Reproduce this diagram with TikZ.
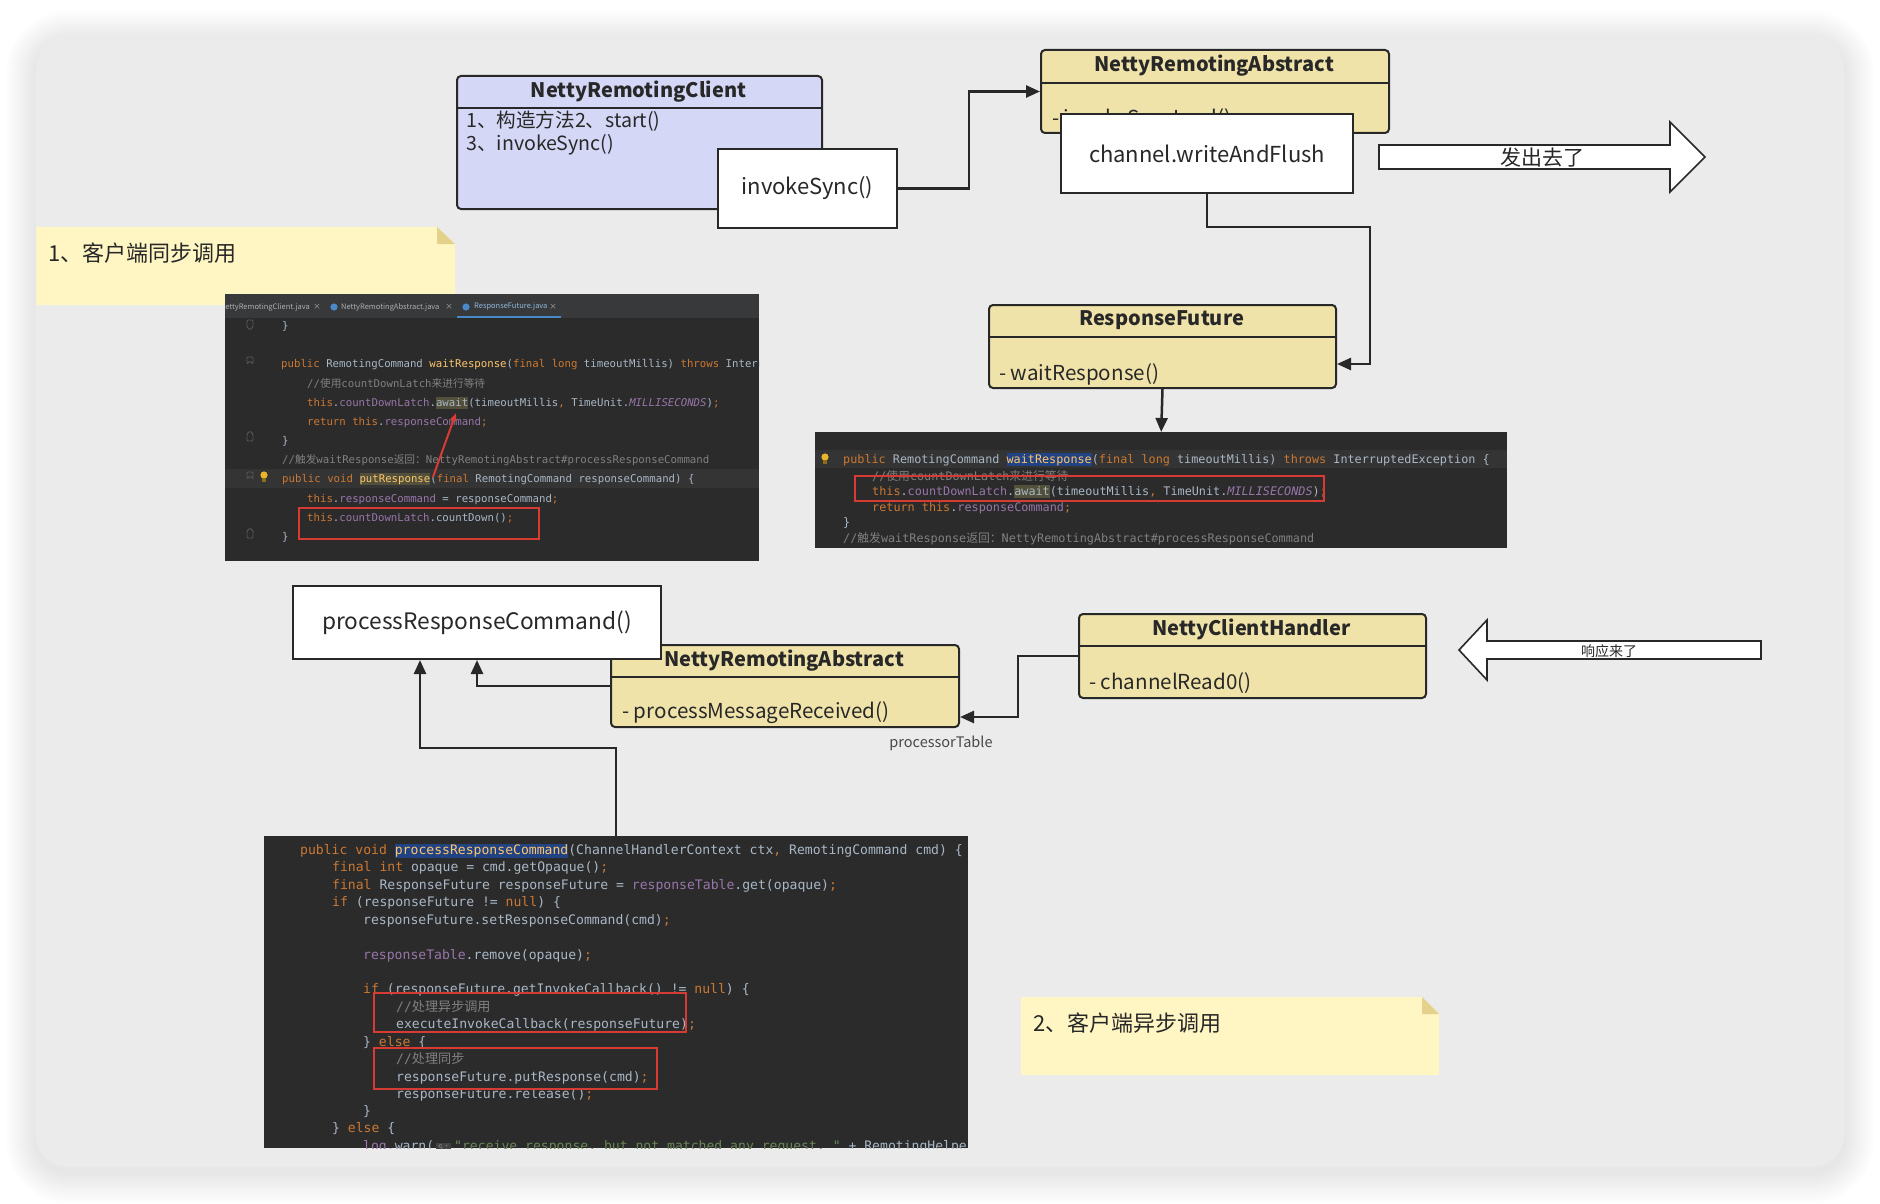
\documentclass[tikz,border=0pt]{standalone}
\usepackage{fontspec}
\setmainfont{Noto Sans CJK SC}
\newfontfamily\codefont{DejaVu Sans Mono}
\usetikzlibrary{arrows.meta,calc}

\definecolor{framebg}{RGB}{235,235,235}
\definecolor{lav}{RGB}{212,215,245}
\definecolor{ylw}{RGB}{240,227,170}
\definecolor{notecol}{RGB}{255,246,196}
\definecolor{notefold}{RGB}{228,210,140}
\definecolor{ink}{RGB}{40,40,40}
\definecolor{codebg}{RGB}{43,43,43}
\definecolor{tabbg}{RGB}{55,57,59}
\definecolor{tabfg}{RGB}{175,175,175}
\definecolor{tabblue}{RGB}{74,136,199}
\definecolor{curline}{RGB}{52,52,52}
\definecolor{ckw}{RGB}{204,120,50}
\definecolor{cpl}{RGB}{169,183,198}
\definecolor{cfd}{RGB}{152,118,170}
\definecolor{cmt}{RGB}{255,198,109}
\definecolor{ccm}{RGB}{128,128,128}
\definecolor{cstr}{RGB}{106,135,89}
\definecolor{csel}{RGB}{33,66,131}
\definecolor{colive}{RGB}{82,80,58}
\definecolor{cinlay}{RGB}{64,66,68}
\definecolor{redbox}{RGB}{214,60,52}
\definecolor{bulb}{RGB}{232,182,40}
\definecolor{foldmk}{RGB}{88,88,88}

\newcommand\kw[1]{\textcolor{ckw}{#1}}
\newcommand\fd[1]{\textcolor{cfd}{#1}}
\newcommand\fdi[1]{\textcolor{cfd}{\itshape #1}}
\newcommand\mt[1]{\textcolor{cmt}{#1}}
\newcommand\cm[1]{\textcolor{ccm}{#1}}
\newcommand\zh[1]{{\rmfamily #1}}
\newcommand\hlbg[2]{{\fboxsep=0pt\colorbox{#1}{\rule[-0.28em]{0pt}{1.12em}#2}}}

\tikzset{
  lbox/.style={draw=ink, line width=2pt, fill=lav, rounded corners=4pt, inner sep=0pt, anchor=north west},
  ybox/.style={draw=ink, line width=2pt, fill=ylw, rounded corners=4pt, inner sep=0pt, anchor=north west},
  wbox/.style={draw=ink, line width=2pt, fill=white, inner sep=0pt, anchor=north west, text=ink, font=\fontsize{22}{26}\selectfont},
  sepline/.style={draw=ink, line width=2pt},
  ttl/.style={font=\bfseries\fontsize{20}{24}\selectfont, text=ink, inner sep=0pt},
  mem/.style={font=\fontsize{20.6}{24}\selectfont, text=ink, inner sep=0pt, anchor=west},
  conn/.style={draw=ink, line width=2.5pt, -{Triangle[length=14pt,width=12pt]}},
  bigarrow/.style={draw=ink, line width=1.6pt, fill=white, line join=miter},
  notetext/.style={font=\fontsize{22}{26}\selectfont, text=ink, inner sep=0pt, anchor=west},
  codebox/.style={fill=codebg, inner sep=0pt, anchor=north west, draw=none},
  codeA/.style={anchor=base west, inner sep=0pt, text=cpl, font=\codefont\fontsize{10.7}{12}\selectfont},
  codeB/.style={anchor=base west, inner sep=0pt, text=cpl, font=\codefont\fontsize{11.8}{13}\selectfont},
  codeC/.style={anchor=base west, inner sep=0pt, text=cpl, font=\codefont\fontsize{13.1}{15}\selectfont},
  redrect/.style={draw=redbox, line width=2pt},
  tabtxt/.style={font=\fontsize{7.5}{9}\selectfont, text=tabfg, inner sep=0pt},
  foldmark/.style={draw=foldmk, line width=0.9pt, rounded corners=1pt},
}

\begin{document}
\begin{tikzpicture}[x=1pt,y=-1pt]
\useasboundingbox (0,0) rectangle (1880,1204);
\fill[white] (0,0) rectangle (1880,1204);

% frame shadow and frame
\foreach \i [evaluate=\i as \r using 32+2.5*\i, evaluate=\i as \d using 2.5*\i] in {1,...,12}{
  \fill[black, opacity=0.0065, rounded corners=\r pt] ({36-\d},{36-\d+5}) rectangle ({1844+\d},{1167+\d+6});
}
\fill[framebg, rounded corners=32pt] (36,36) rectangle (1844,1167);

% ---------- note 1 ----------
\fill[notecol] (36,227) -- (437,227) -- (455,244) -- (455,305) -- (36,305) -- cycle;
\fill[notefold] (437,227) -- (455,244) -- (437,244) -- cycle;
\node[notetext] (note1) at (48,253) {1、客户端同步调用};

% ---------- note 2 ----------
\fill[notecol] (1021,997) -- (1422,997) -- (1439,1014) -- (1439,1075) -- (1021,1075) -- cycle;
\fill[notefold] (1422,997) -- (1439,1014) -- (1422,1014) -- cycle;
\node[notetext] (note2) at (1033,1023) {2、客户端异步调用};

% ---------- NettyRemotingClient ----------
\node[lbox, minimum width=365pt, minimum height=133pt] (nrc) at (456,75) {};
\draw[sepline] (456,108) -- (821,108);
\node[ttl] (nrct) at (638.5,92) {NettyRemotingClient};
\node[mem, font=\fontsize{19.6}{23}\selectfont] (nrcm1) at (466,121) {1、构造方法2、start()};
\node[mem, font=\fontsize{19.6}{23}\selectfont] (nrcm2) at (466,145) {3、invokeSync()};
\node[wbox, minimum width=179pt, minimum height=79pt] (inv) at (717,148) {invokeSync()};

% ---------- NettyRemotingAbstract (top) ----------
\node[ybox, minimum width=348pt, minimum height=83pt] (nra1) at (1040,49) {};
\draw[sepline] (1040,83) -- (1388,83);
\node[ttl] (nra1t) at (1214,66) {NettyRemotingAbstract};
\node[mem] (nra1m) at (1052,119) {- invokeSyncImpl()};
\node[wbox, minimum width=292pt, minimum height=79pt] (wf) at (1060,113) {channel.writeAndFlush};

% big right arrow
\draw[bigarrow] (1379,145) -- (1670,145) -- (1670,122) -- (1705,157) -- (1670,192) -- (1670,169) -- (1379,169) -- cycle;
\node[font=\fontsize{21}{25}\selectfont, text=ink, inner sep=0pt] (sent) at (1542,158) {发出去了};

% ---------- ResponseFuture ----------
\node[ybox, minimum width=347pt, minimum height=83pt] (rf) at (988,304) {};
\draw[sepline] (988,337) -- (1335,337);
\node[ttl] (rft) at (1161.5,320.5) {ResponseFuture};
\node[mem] (rfm) at (999,374) {- waitResponse()};

% ---------- code screenshot 1 ----------
\node[codebox, minimum width=534pt, minimum height=267pt] (cb1) at (225,294) {};
\begin{scope}
\clip (225,294) rectangle (759,561);
\fill[tabbg] (225,294) rectangle (759,318);
\fill[curline] (225,469) rectangle (759,488);
\node[tabtxt, anchor=east] (tab1) at (310,307) {NettyRemotingClient.java};
\node[tabtxt] (tab1x) at (317,307) {×};
\fill[tabblue] (334,307) circle (3.6pt);
\node[tabtxt, anchor=west] (tab2) at (341,307) {NettyRemotingAbstract.java};
\node[tabtxt] (tab2x) at (449,307) {×};
\fill[tabblue] (466,307) circle (3.6pt);
\node[tabtxt, anchor=west, text=tabblue!60!white] (tab3) at (474,307) {ResponseFuture.java};
\node[tabtxt] (tab3x) at (553,307) {×};
\fill[tabblue] (457,316) rectangle (561,318);
% gutter fold markers
\draw[foldmark] (247,320) -- (253,320) -- (253,327) -- (250,330) -- (247,327) -- cycle;
\draw[foldmark] (247,357) -- (253,357) -- (253,364) -- (250,361) -- (247,364) -- cycle;
\draw[foldmark] (247,434) -- (250,431) -- (253,434) -- (253,441) -- (247,441) -- cycle;
\draw[foldmark] (247,472) -- (253,472) -- (253,479) -- (250,476) -- (247,479) -- cycle;
\draw[foldmark] (247,531) -- (250,528) -- (253,531) -- (253,538) -- (247,538) -- cycle;
\node[codeA] (a0) at (282,329) {\}};
\node[codeA] (a1) at (281,367) {\kw{public} RemotingCommand \mt{waitResponse}(\kw{final long} timeoutMillis) \kw{throws} InterruptedException \{};
\node[codeA] (a2) at (307,387) {\cm{//\zh{使用}countDownLatch\zh{来进行等待}}};
\node[codeA] (a3) at (307,406) {\kw{this}.\fd{countDownLatch}.\hlbg{colive}{await}(timeoutMillis\kw{,} TimeUnit.\fdi{MILLISECONDS})\kw{;}};
\node[codeA] (a4) at (307,425) {\kw{return this}.\fd{responseCommand}\kw{;}};
\node[codeA] (a5) at (282,444) {\}};
\node[codeA] (a6) at (282,463) {\cm{//\zh{触发}waitResponse\zh{返回：}NettyRemotingAbstract\#processResponseCommand}};
\node[codeA] (a7) at (282,482) {\kw{public void} \hlbg{colive}{\mt{putResponse}}(\kw{final} RemotingCommand responseCommand) \{};
\node[codeA] (a8) at (307,502) {\kw{this}.\fd{responseCommand} = responseCommand\kw{;}};
\node[codeA] (a9) at (307,521) {\kw{this}.\fd{countDownLatch}.countDown()\kw{;}};
\node[codeA] (a10) at (282,540) {\}};
\fill[bulb] (264,475) circle (3.6pt);
\fill[bulb!60!black] (262.3,478) rectangle (265.7,482);
\draw[redrect] (299,508) rectangle (539,539);
\draw[draw=redbox, line width=2pt, -{Triangle[length=8pt,width=6pt]}] (433,477) -- (456,413);
\end{scope}

% ---------- code screenshot 2 ----------
\node[codebox, minimum width=692pt, minimum height=116pt] (cb2) at (815,432) {};
\begin{scope}
\clip (815,432) rectangle (1507,548);
\fill[curline] (815,450) rectangle (1507,468);
\node[codeB] (b1) at (843,463) {\kw{public} RemotingCommand \hlbg{csel}{\mt{waitResponse}}(\kw{final long} timeoutMillis) \kw{throws} InterruptedException \{};
\node[codeB] (b2) at (872,480) {\cm{//\zh{使用}countDownLatch\zh{来进行等待}}};
\node[codeB] (b3) at (872,495) {\kw{this}.\fd{countDownLatch}.\hlbg{colive}{await}(timeoutMillis\kw{,} TimeUnit.\fdi{MILLISECONDS})\kw{;}};
\node[codeB] (b4) at (872,511) {\kw{return this}.\fd{responseCommand}\kw{;}};
\node[codeB] (b5) at (843,526) {\}};
\node[codeB] (b6) at (843,542) {\cm{//\zh{触发}waitResponse\zh{返回：}NettyRemotingAbstract\#processResponseCommand}};
\fill[bulb] (825,457) circle (3.6pt);
\fill[bulb!60!black] (823.3,460) rectangle (826.7,464);
\draw[redrect] (855,476) rectangle (1324,501);
\end{scope}

% ---------- NettyRemotingAbstract (bottom) ----------
\node[ybox, minimum width=348pt, minimum height=82pt] (nra2) at (610,644) {};
\draw[sepline] (610,677) -- (958,677);
\node[ttl] (nra2t) at (784,660.5) {NettyRemotingAbstract};
\node[mem] (nra2m) at (622,713) {- processMessageReceived()};
\node[wbox, minimum width=368pt, minimum height=73pt, font=\fontsize{22.7}{27}\selectfont] (prc) at (292,585) {processResponseCommand()};
\node[font=\fontsize{14.5}{17}\selectfont, text=ink!85, inner sep=0pt] (ptab) at (941,743) {processorTable};

% ---------- NettyClientHandler ----------
\node[ybox, minimum width=347pt, minimum height=84pt] (nch) at (1078,613) {};
\draw[sepline] (1078,646) -- (1425,646);
\node[ttl] (ncht) at (1251.5,629.5) {NettyClientHandler};
\node[mem] (nchm) at (1089,683) {- channelRead0()};

% big left arrow
\draw[bigarrow] (1761,641) -- (1487,641) -- (1487,620) -- (1459,650) -- (1487,680) -- (1487,659) -- (1761,659) -- cycle;
\node[font=\fontsize{14}{17}\selectfont, text=ink, inner sep=0pt] (recv) at (1609,651) {响应来了};

% ---------- code screenshot 3 ----------
\node[codebox, minimum width=704pt, minimum height=312pt] (cb3) at (264,836) {};
\begin{scope}
\clip (264,836) rectangle (968,1148);
\node[codeC] (c1) at (300,854.5) {\kw{public void} \hlbg{csel}{\mt{processResponseCommand}}(ChannelHandlerContext ctx\kw{,} RemotingCommand cmd) \{};
\node[codeC] (c2) at (332,871.5) {\kw{final int} opaque = cmd.getOpaque()\kw{;}};
\node[codeC] (c3) at (332,889.5) {\kw{final} ResponseFuture responseFuture = \fd{responseTable}.get(opaque)\kw{;}};
\node[codeC] (c4) at (332,906.5) {\kw{if} (responseFuture != \kw{null}) \{};
\node[codeC] (c5) at (363,924.5) {responseFuture.setResponseCommand(cmd)\kw{;}};
\node[codeC] (c6) at (363,959.5) {\fd{responseTable}.remove(opaque)\kw{;}};
\node[codeC] (c7) at (363,993.5) {\kw{if} (responseFuture.getInvokeCallback() != \kw{null}) \{};
\node[codeC] (c8) at (396,1011.5) {\cm{//\zh{处理异步调用}}};
\node[codeC] (c9) at (396,1028.5) {executeInvokeCallback(responseFuture)\kw{;}};
\node[codeC] (c10) at (363,1046.5) {\} \kw{else} \{};
\node[codeC] (c11) at (396,1063.5) {\cm{//\zh{处理同步}}};
\node[codeC] (c12) at (396,1081.5) {responseFuture.putResponse(cmd)\kw{;}};
\node[codeC] (c13) at (396,1098.5) {responseFuture.release()\kw{;}};
\node[codeC] (c14) at (363,1115.5) {\}};
\node[codeC] (c15) at (332,1132.5) {\} \kw{else} \{};
\node[codeC] (c16) at (363,1150.5) {\fd{log}.warn(\hspace{2pt}{\fboxsep=1.5pt\colorbox{cinlay}{\fontsize{10}{10}\selectfont\textcolor{ccm}{s:}}}\hspace{3pt}\textcolor{cstr}{"receive response, but not matched any request, "} + RemotingHelper.parseChannelRemoteAddr(ctx.channel()));};
\draw[redrect] (374,993) rectangle (686,1032);
\draw[redrect] (374,1048) rectangle (657,1089);
\end{scope}

% ---------- connectors ----------
\draw[conn] (inv.east) -- ++(71,0) |- (nra1.west);
\draw[conn] (wf.south) -- ++(0,33) -| ($(rf.east)+(33,17.5)$) -- ($(rf.east)+(0,17.5)$);
\draw[conn] (rf.south) -- (cb2.north);
\draw[conn] (nch.west) -- ++(-60,0) |- ($(nra2.east)+(0,31)$);
\draw[conn] (nra2.west) -| (prc.south);
\draw[conn] (cb3.north) -- ++(0,-88) -| ($(prc.south)+(-57,0)$);
\end{tikzpicture}
\end{document}
